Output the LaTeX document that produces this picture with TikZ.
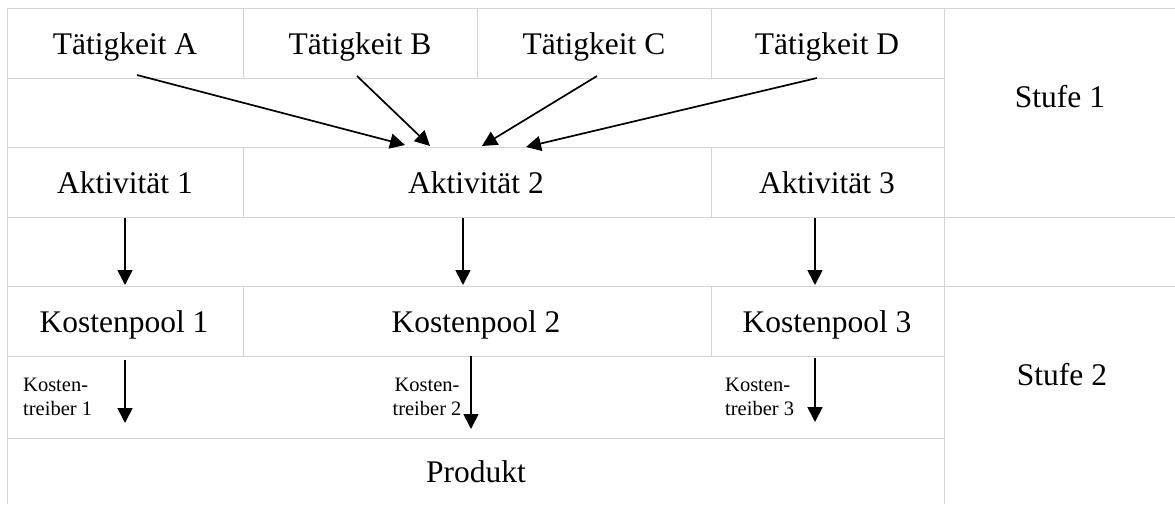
\documentclass[tikz,border=0pt]{standalone}
\usepackage{fontspec}
\setmainfont{Liberation Serif}
\usetikzlibrary{arrows.meta}
\begin{document}
\begin{tikzpicture}[x=1pt,y=-1pt,
  grid/.style={draw={rgb,255:red,212;green,212;blue,212},line width=1pt},
  big/.style={inner sep=0pt,anchor=base,font=\fontsize{31.5}{36}\selectfont},
  small/.style={inner sep=0pt,font=\fontsize{20.5}{24}\selectfont},
  flow/.style={draw=black,line width=1.7pt,-{Triangle[length=15pt,width=15pt]}}]
\useasboundingbox (0,0) rectangle (1175,504);
% grid
\draw[grid] (7.5,8) -- (1175,8);
\draw[grid] (7.5,217) -- (1175,217);
\draw[grid] (7.5,286) -- (1175,286);
\draw[grid] (7.5,78) -- (944,78);
\draw[grid] (7.5,147) -- (944,147);
\draw[grid] (7.5,356) -- (944,356);
\draw[grid] (7.5,438) -- (944,438);
\draw[grid] (7.5,8) -- (7.5,504);
\draw[grid] (944,8) -- (944,504);
\draw[grid] (243,8) -- (243,78);
\draw[grid] (477,8) -- (477,78);
\draw[grid] (711,8) -- (711,78);
\draw[grid] (243,147) -- (243,217);
\draw[grid] (711,147) -- (711,217);
\draw[grid] (243,286) -- (243,356);
\draw[grid] (711,286) -- (711,356);
% texts
\node[big] (tA) at (125,54) {Tätigkeit A};
\node[big] (tB) at (360,54) {Tätigkeit B};
\node[big] (tC) at (594,54) {Tätigkeit C};
\node[big] (tD) at (827,54) {Tätigkeit D};
\node[big] (a1) at (125,193) {Aktivität 1};
\node[big] (a2) at (476,193) {Aktivität 2};
\node[big] (a3) at (827,193) {Aktivität 3};
\node[big] (k1) at (124,332) {Kostenpool 1};
\node[big] (k2) at (476,332) {Kostenpool 2};
\node[big] (k3) at (827,332) {Kostenpool 3};
\node[big] (prod) at (476,482) {Produkt};
\node[big] (s1) at (1060,107) {Stufe 1};
\node[big] (s2) at (1062,385) {Stufe 2};
\node[small,anchor=north west,align=left] (d1) at (23,378) {Kosten-\\treiber 1};
\node[small,anchor=north,align=center] (d2) at (427,378) {Kosten-\\treiber 2};
\node[small,anchor=north west,align=left] (d3) at (725,378) {Kosten-\\treiber 3};
% arrow end points
\coordinate (sA) at (137,75);  \coordinate (eA) at (405,145);
\coordinate (sB) at (357,76);  \coordinate (eB) at (430,146);
\coordinate (sC) at (597,76);  \coordinate (eC) at (482,146);
\coordinate (sD) at (817,78);  \coordinate (eD) at (526,147);
\coordinate (u1) at (125,218); \coordinate (v1) at (125,285);
\coordinate (u2) at (463,218); \coordinate (v2) at (463,285);
\coordinate (u3) at (815,218); \coordinate (v3) at (815,285);
\coordinate (p1) at (125,360); \coordinate (q1) at (125,423);
\coordinate (p2) at (471,356); \coordinate (q2) at (471,429);
\coordinate (p3) at (815,358); \coordinate (q3) at (815,422);
% arrows
\draw[flow] (sA) -- (eA);
\draw[flow] (sB) -- (eB);
\draw[flow] (sC) -- (eC);
\draw[flow] (sD) -- (eD);
\draw[flow] (u1) -- (v1);
\draw[flow] (u2) -- (v2);
\draw[flow] (u3) -- (v3);
\draw[flow] (p1) -- (q1);
\draw[flow] (p2) -- (q2);
\draw[flow] (p3) -- (q3);
\end{tikzpicture}
\end{document}
